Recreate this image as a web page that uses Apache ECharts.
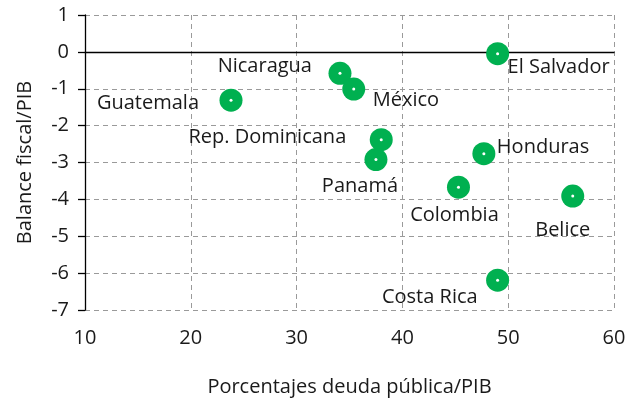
<!DOCTYPE html>
<html><head><meta charset="utf-8">
<script src="https://cdn.jsdelivr.net/npm/echarts@6/dist/echarts.min.js"></script>
<style>html,body{margin:0;padding:0;background:#fff}#c{width:636px;height:402px}</style>
</head><body><div id="c"></div>
<script>
const countries = ["El Salvador","Nicaragua","México","Guatemala","Rep. Dominicana","Panamá","Honduras","Colombia","Belice","Costa Rica"];
const debt = [49.0, 34.1, 35.4, 23.8, 38.0, 37.5, 47.7, 45.3, 56.1, 49.0];
const balance = [-0.05, -0.58, -1.01, -1.31, -2.38, -2.92, -2.76, -3.67, -3.91, -6.19];
const xTicks = [10,20,30,40,50,60];
const yTicks = [1,0,-1,-2,-3,-4,-5,-6,-7];

const labelPlace = {
  "El Salvador": {align:'left', offset:[10,14]},
  "Nicaragua": {align:'right', offset:[-28,-7]},
  "México": {align:'left', offset:[19,11]},
  "Guatemala": {align:'right', offset:[-32,3]},
  "Rep. Dominicana": {align:'right', offset:[-35,-2]},
  "Panamá": {align:'center', offset:[-16,27]},
  "Honduras": {align:'left', offset:[13,-6]},
  "Colombia": {align:'center', offset:[-4,28]},
  "Belice": {align:'center', offset:[-10,34]},
  "Costa Rica": {align:'right', offset:[-20,17]}
};
const FONT = "'Open Sans', 'Noto Sans', sans-serif";
const FS = 20;
const pts = countries.map((c,i)=>({
  value:[debt[i], balance[i]], name:c,
  label:{show:true, formatter:c, position:'inside', align:labelPlace[c].align, verticalAlign:'middle',
    offset:labelPlace[c].offset, color:'#1a1a1a', fontSize:FS, fontFamily:FONT}
}));
const chart = echarts.init(document.getElementById('c'), null, {renderer:'canvas'});
const grid = {color:'#9a9a9a', type:[5,4], width:1};
chart.setOption({
  animation:false,
  grid:{left:85, right:22, top:15, bottom:87, containLabel:false},
  xAxis:[{type:'value', min:10, max:60, interval:10,
    name:'Porcentajes deuda pública/PIB', nameLocation:'middle', nameGap:67,
    nameTextStyle:{fontSize:FS, color:'#1a1a1a', fontFamily:FONT},
    axisLine:{onZero:true, lineStyle:{color:'#000', width:1.3}},
    axisTick:{show:false},
    axisLabel:{show:false},
    splitLine:{show:true, lineStyle:grid}},
    {type:'value', min:10, max:60, interval:10, position:'bottom',
    axisLine:{show:false}, axisTick:{show:false}, splitLine:{show:false},
    axisLabel:{fontSize:FS, color:'#1a1a1a', fontFamily:FONT, margin:18}}],
  yAxis:{type:'value', min:-7, max:1, interval:1,
    name:'Balance fiscal/PIB', nameLocation:'middle', nameGap:50, nameRotate:90,
    nameTextStyle:{fontSize:FS, color:'#1a1a1a', fontFamily:FONT},
    axisLine:{show:true, lineStyle:{color:'#000', width:1.3}},
    axisTick:{show:true, length:7, lineStyle:{color:'#000', width:1.3}},
    axisLabel:{fontSize:FS, color:'#1a1a1a', fontFamily:FONT, margin:16},
    splitLine:{show:true, lineStyle:grid}},
  series:[
    {type:'scatter', symbol:'circle', symbolSize:23, itemStyle:{color:'#00b050', opacity:1}, data:pts, z:3},
    {type:'scatter', symbol:'circle', symbolSize:3, itemStyle:{color:'#fff', opacity:1}, data:countries.map((c,i)=>[debt[i],balance[i]]), z:4, silent:true}
  ]
});
</script></body></html>
